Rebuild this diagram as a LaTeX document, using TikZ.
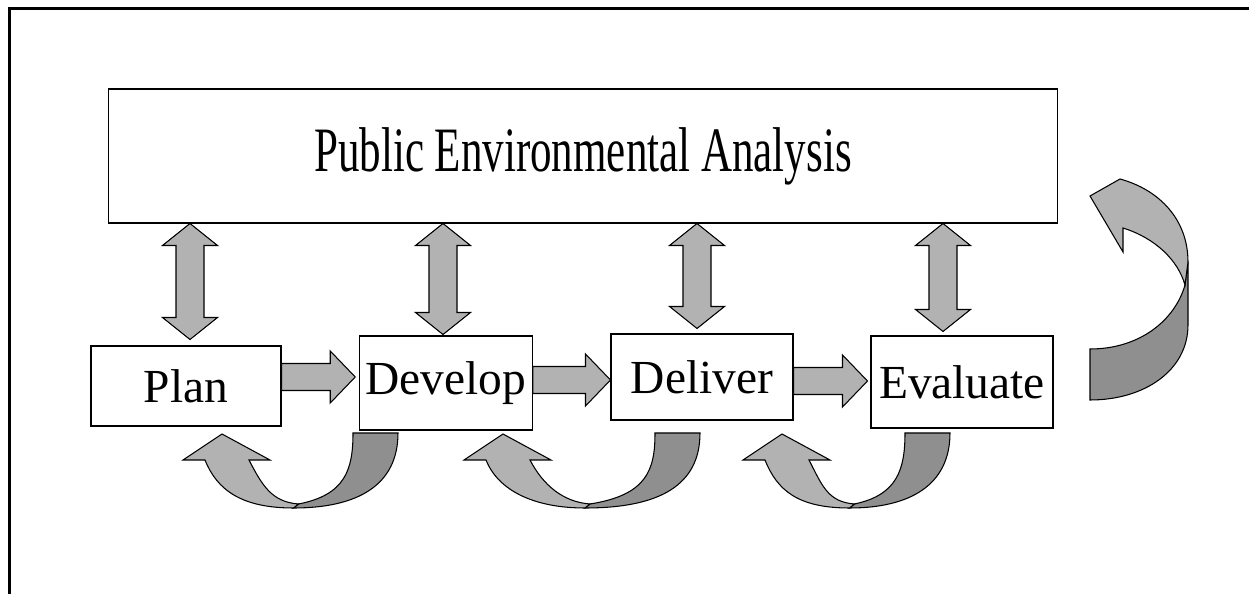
\documentclass[tikz,border=0pt]{standalone}
\usepackage{fontspec}
\setmainfont{Liberation Serif}
\usetikzlibrary{calc}

\tikzset{
  stagebox/.style={draw, line width=0.6pt, fill=white, inner sep=0pt, font=\fontsize{27}{30}\selectfont},
  frontband/.style={draw, line width=0.6pt, fill=black!30, line join=miter},
  backband/.style={draw, line width=0.6pt, fill=black!44, line join=miter},
}

% two-headed block arrow, #1 top tip, #2 bottom tip
\newcommand{\twoway}[2]{%
  \draw[frontband] (#1) -- ++(27.5,22) -- ++(-13.5,0) -- ($(#2)+(14,-22)$) -- ++(13.5,0) -- (#2)
    -- ++(-27.5,-22) -- ++(13.5,0) -- ($(#1)+(-14,22)$) -- ++(-13.5,0) -- cycle;}
% one-headed block arrow, #1 tail, #2 tip
\newcommand{\oneway}[2]{%
  \draw[frontband] ($(#1)+(0,-13.5)$) -- ($(#2)+(-25,-13.5)$) -- ($(#2)+(-25,-26)$) -- (#2)
    -- ($(#2)+(-25,26)$) -- ($(#2)+(-25,13.5)$) -- ($(#1)+(0,13.5)$) -- cycle;}
% u-turn arrow below the boxes, #1 head tip x, #2 outer x of the back band
\newcommand{\loopback}[2]{%
  \pgfmathsetmacro{\bx}{(#1-17+#2)/2}
  \draw[backband] ({#2-45},433) -- (#2,433) .. controls (#2,485) and ({#2-40},508) .. ({\bx-8},508)
    -- ({\bx-3},504) .. controls ({#2-53},495) and ({#2-45},470) .. ({#2-45},433) -- cycle;
  \draw[frontband] ({#1-17},460) -- ({#1-39},460) -- (#1,434) -- ({#1+48},460) -- ({#1+27},460)
    .. controls ({#1+40},485) and ({\bx-30},502) .. ({\bx-3},504) -- ({\bx-8},508)
    .. controls ({\bx-60},508) and ({#1-5},490) .. ({#1-17},460) -- cycle;}

\begin{document}
\begin{tikzpicture}[x=0.02cm, y=-0.02cm]
  \useasboundingbox (0,0) rectangle (1249,594);
  \draw[line width=0.06cm] (9.5,594) -- (9.5,8.5) -- (1249,8.5);

  \node[stagebox, minimum width=19cm, minimum height=2.68cm] (analysis) at (583,156)
    {\fontsize{36}{40}\selectfont\raisebox{-3pt}{\scalebox{0.68}[1]{Public Environmental Analysis}}};
  \node[stagebox, minimum width=3.8cm, minimum height=1.6cm] (plan) at (186,386) {Plan};
  \node[stagebox, minimum width=3.45cm, minimum height=1.88cm] (develop) at (446,383) {\raisebox{-2pt}{Develop}};
  \node[stagebox, minimum width=3.64cm, minimum height=1.72cm] (deliver) at (702,377) {Deliver};
  \node[stagebox, minimum width=3.64cm, minimum height=1.84cm] (evaluate) at (962,382) {Evaluate};

  % links to the analysis box
  \coordinate (t1) at (190,0 |- analysis.south);
  \coordinate (b1) at ($(190,0 |- plan.north)+(0,-6)$);
  \coordinate (t2) at (443,0 |- analysis.south);
  \coordinate (b2) at ($(443,0 |- develop.north)+(0,-1)$);
  \coordinate (t3) at (697,0 |- analysis.south);
  \coordinate (b3) at ($(697,0 |- deliver.north)+(0,-5)$);
  \coordinate (t4) at (943,0 |- analysis.south);
  \coordinate (b4) at ($(943,0 |- evaluate.north)+(0,-4)$);
  \twoway{t1}{b1}
  \twoway{t2}{b2}
  \twoway{t3}{b3}
  \twoway{t4}{b4}

  % forward steps
  \coordinate (s1) at (plan.east |- 0,377);
  \coordinate (e1) at ($(develop.west |- 0,377)+(-4,0)$);
  \coordinate (s2) at (develop.east |- 0,380);
  \coordinate (e2) at (deliver.west |- 0,380);
  \coordinate (s3) at (deliver.east |- 0,381);
  \coordinate (e3) at ($(evaluate.west |- 0,381)+(-3,0)$);
  \oneway{s1}{e1}
  \oneway{s2}{e2}
  \oneway{s3}{e3}

  % feedback below
  \loopback{222}{398}
  \loopback{503}{700}
  \loopback{782}{950}

  % big loop on the right
  \draw[backband] (1090,349) .. controls (1140,349) and (1175,320) .. (1185,285) -- (1188,262)
    -- (1188,325) .. controls (1188,370) and (1145,400) .. (1090,400) -- cycle;
  \draw[frontband] (1120,179) .. controls (1160,190) and (1188,220) .. (1188,262) -- (1185,285)
    .. controls (1178,260) and (1155,238) .. (1123,228) -- (1123,252) -- (1090,196) -- cycle;
\end{tikzpicture}
\end{document}
